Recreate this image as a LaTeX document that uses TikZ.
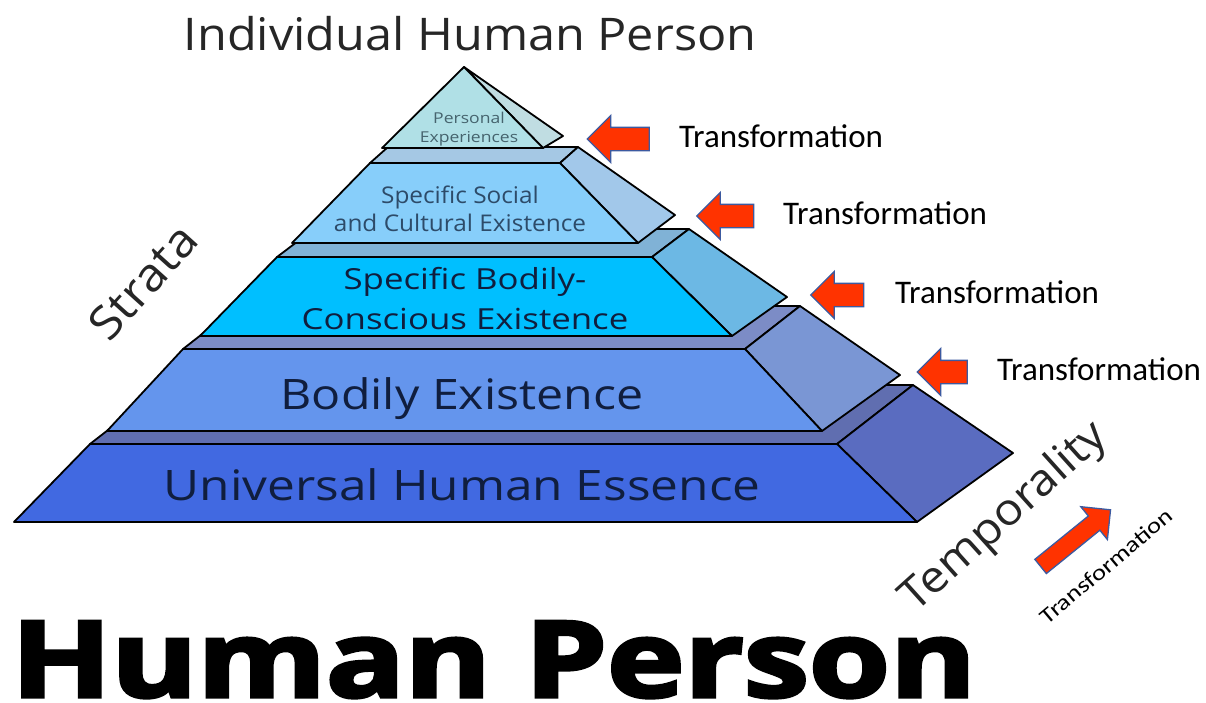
\documentclass[tikz,border=0pt]{standalone}
\usepackage{fontspec}
\setmainfont{Open Sans}
\newfontfamily\labelfont{Carlito}
\newfontfamily\heavyfont{Open Sans}[BoldFeatures={FakeBold=3}]
\usetikzlibrary{shapes.arrows}

% layer colours: front, side and top faces
\definecolor{frontA}{RGB}{65,105,225}
\definecolor{sideA}{RGB}{90,108,192}
\definecolor{topA}{RGB}{96,110,176}
\definecolor{frontB}{RGB}{100,149,237}
\definecolor{sideB}{RGB}{122,150,212}
\definecolor{topB}{RGB}{124,140,198}
\definecolor{frontC}{RGB}{0,191,255}
\definecolor{sideC}{RGB}{108,184,228}
\definecolor{topC}{RGB}{128,178,214}
\definecolor{frontD}{RGB}{135,206,250}
\definecolor{sideD}{RGB}{162,200,234}
\definecolor{topD}{RGB}{165,200,228}
\definecolor{frontE}{RGB}{176,224,230}
\definecolor{sideE}{RGB}{192,221,226}
\definecolor{layertext}{RGB}{16,30,62}
\definecolor{softtext}{RGB}{45,75,105}
\definecolor{palltext}{RGB}{70,100,110}
\definecolor{arrowred}{RGB}{255,51,0}
\definecolor{arrowrim}{RGB}{60,90,160}

\begin{document}
\begin{tikzpicture}[x=1pt,y=-1pt,
	face/.style={draw=black,line width=1.8pt,line join=round},
	layer/.style={text=layertext,align=center,inner sep=0pt},
	redarrow/.style={single arrow,draw=arrowrim,fill=arrowred,line width=1.3pt,inner xsep=0pt,inner ysep=11pt,
		single arrow head extend=12pt,single arrow head indent=0pt,shape border rotate=180},
	trans/.style={font=\labelfont\fontsize{33}{33}\selectfont,anchor=base west,inner sep=0pt}]
	\useasboundingbox[fill=white] (0,0) rectangle (1206,702);
	
	% bottom layer
	\filldraw[face,fill=topA] (90,444) -- (837,444) -- (913,385) -- (166,385) -- cycle;
	\filldraw[face,fill=sideA] (837,444) -- (913,385) -- (1013,453) -- (917,522) -- cycle;
	\filldraw[face,fill=frontA] (14,522) -- (917,522) -- (837,444) -- (90,444) -- cycle;
	% second layer
	\filldraw[face,fill=topB] (183,349) -- (745,349) -- (800,306) -- (238,306) -- cycle;
	\filldraw[face,fill=sideB] (745,349) -- (800,306) -- (900,375) -- (822,431) -- cycle;
	\filldraw[face,fill=frontB] (107,431) -- (822,431) -- (745,349) -- (183,349) -- cycle;
	% third layer
	\filldraw[face,fill=topC] (277,257) -- (652,257) -- (689,229) -- (314,229) -- cycle;
	\filldraw[face,fill=sideC] (652,257) -- (689,229) -- (787,297) -- (732,336) -- cycle;
	\filldraw[face,fill=frontC] (200,336) -- (732,336) -- (652,257) -- (277,257) -- cycle;
	% fourth layer
	\filldraw[face,fill=topD] (370,163) -- (560,163) -- (578,147) -- (388,147) -- cycle;
	\filldraw[face,fill=sideD] (560,163) -- (578,147) -- (675,215) -- (638,243) -- cycle;
	\filldraw[face,fill=frontD] (292,243) -- (638,243) -- (560,163) -- (370,163) -- cycle;
	% apex
	\filldraw[face,fill=sideE] (464,67) -- (563,136) -- (543,148) -- cycle;
	\filldraw[face,fill=frontE] (382,148) -- (543,148) -- (464,67) -- cycle;
	
	% layer names
	\node[layer,text=palltext,font=\fontsize{15}{19}\selectfont] (personal) at (469,129) {\scalebox{1.17}[1]{Personal}\\\scalebox{1.17}[1]{Experiences}};
	\node[layer,text=softtext,font=\fontsize{23}{28}\selectfont] (social) at (460,209) {\scalebox{1.06}[1]{Specific Social}\\\scalebox{1.06}[1]{and Cultural Existence}};
	\node[layer,font=\fontsize{29}{40}\selectfont] (bodilyconscious) at (465,299) {\scalebox{1.2}[1]{Specific Bodily-}\\\scalebox{1.2}[1]{Conscious Existence}};
	\node[layer,font=\fontsize{42}{42}\selectfont,anchor=base] (bodily) at (462,409) {\scalebox{1.15}[1]{Bodily Existence}};
	\node[layer,font=\fontsize{42}{42}\selectfont,anchor=base] (essence) at (462,500) {\scalebox{1.18}[1]{Universal Human Essence}};
	
	% titles round the pyramid
	\node[text=black!85,font=\fontsize{45}{45}\selectfont,anchor=base,inner sep=0pt] (individual) at (470,50) {\scalebox{1.08}[1]{Individual Human Person}};
	\node[text=black!85,font=\fontsize{46}{46}\selectfont,rotate=48,inner sep=0pt] (strata) at (143,282) {\scalebox{1.08}[1]{Strata}};
	\node[text=black!85,font=\fontsize{44}{44}\selectfont,rotate=42,inner sep=0pt] (temporality) at (1005,518) {\scalebox{1.08}[1]{Temporality}};
	\node[font=\heavyfont\fontsize{106}{106}\selectfont\bfseries,anchor=base west,inner sep=0pt] (human) at (11,697) {\scalebox{1.235}[1]{Human Person}};
	
	% transformation arrows
	\foreach \n/\x/\y/\l/\tx in {1/624/139/62/679, 2/731/216/57/783, 3/843/295/53/895, 4/948/372/50/997}{
		\node[redarrow,minimum height=\l] (arrow\n) at (\x,\y) {};
		\node[trans] (trans\n) at (\tx,\y+8) {Transformation};
	}
	\node[redarrow,inner ysep=8.5pt,minimum height=90,shape border rotate=0,rotate=39] (arrowtime) at (1072,541) {};
	\node[font=\labelfont\fontsize{22}{22}\selectfont,rotate=40,inner sep=0pt] (transtime) at (1106,566) {\scalebox{1.22}[1]{Transformation}};
\end{tikzpicture}
\end{document}
